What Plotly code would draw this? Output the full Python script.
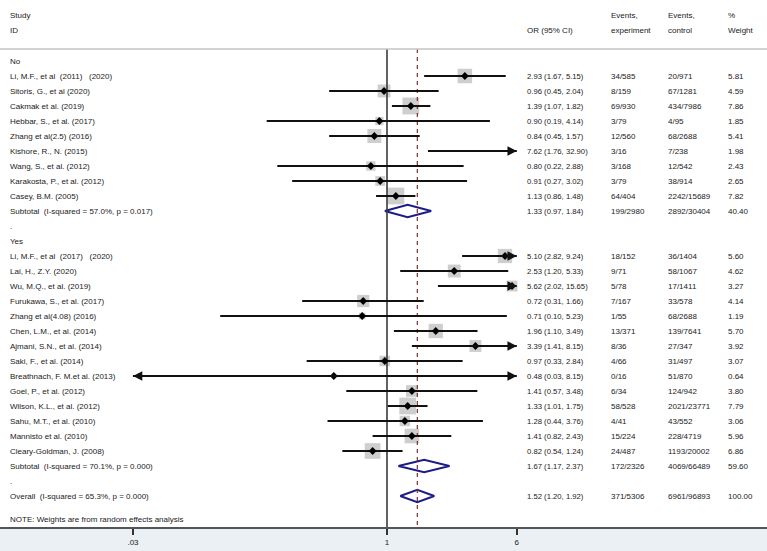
import math
import plotly.graph_objects as go

# ---------------- data ----------------
no_study = ["Li, M.F., et al\u00a0\u00a0(2011)\u00a0\u00a0\u00a0(2020)", "Sitoris, G., et al (2020)", "Cakmak et al. (2019)",
            "Hebbar, S., et al. (2017)", "Zhang et al(2.5) (2016)", "Kishore, R., N. (2015)",
            "Wang, S., et al. (2012)", "Karakosta, P., et al. (2012)", "Casey, B.M. (2005)"]
no_or = [2.93, 0.96, 1.39, 0.90, 0.84, 7.62, 0.80, 0.91, 1.13]
no_lo = [1.67, 0.45, 1.07, 0.19, 0.45, 1.76, 0.22, 0.27, 0.86]
no_hi = [5.15, 2.04, 1.82, 4.14, 1.57, 32.90, 2.88, 3.02, 1.48]
no_ev_exp = ["34/585", "8/159", "69/930", "3/79", "12/560", "3/16", "3/168", "3/79", "64/404"]
no_ev_ctl = ["20/971", "67/1281", "434/7986", "4/95", "68/2688", "7/238", "12/542", "38/914", "2242/15689"]
no_w = [5.81, 4.59, 7.86, 1.85, 5.41, 1.98, 2.43, 2.65, 7.82]

yes_study = ["Li, M.F., et al\u00a0\u00a0(2017)\u00a0\u00a0\u00a0(2020)", "Lai, H., Z.Y. (2020)", "Wu, M.Q., et al. (2019)",
             "Furukawa, S., et al. (2017)", "Zhang et al(4.08) (2016)", "Chen, L.M., et al. (2014)",
             "Ajmani, S.N., et al. (2014)", "Saki, F., et al. (2014)", "Breathnach, F. M.et al. (2013)",
             "Goel, P., et al. (2012)", "Wilson, K.L., et al. (2012)", "Sahu, M.T., et al. (2010)",
             "Mannisto et al. (2010)", "Cleary-Goldman, J. (2008)"]
yes_or = [5.10, 2.53, 5.62, 0.72, 0.71, 1.96, 3.39, 0.97, 0.48, 1.41, 1.33, 1.28, 1.41, 0.82]
yes_lo = [2.82, 1.20, 2.02, 0.31, 0.10, 1.10, 1.41, 0.33, 0.03, 0.57, 1.01, 0.44, 0.82, 0.54]
yes_hi = [9.24, 5.33, 15.65, 1.66, 5.23, 3.49, 8.15, 2.84, 8.15, 3.48, 1.75, 3.76, 2.43, 1.24]
yes_ev_exp = ["18/152", "9/71", "5/78", "7/167", "1/55", "13/371", "8/36", "4/66", "0/16", "6/34",
              "58/528", "4/41", "15/224", "24/487"]
yes_ev_ctl = ["36/1404", "58/1067", "17/1411", "33/578", "68/2688", "139/7641", "27/347", "31/497",
              "51/870", "124/942", "2021/23771", "43/552", "228/4719", "1193/20002"]
yes_w = [5.60, 4.62, 3.27, 4.14, 1.19, 5.70, 3.92, 3.07, 0.64, 3.80, 7.79, 3.06, 5.96, 6.86]

sub_label = ["Subtotal\u00a0\u00a0(I-squared = 57.0%, p = 0.017)", "Subtotal\u00a0\u00a0(I-squared = 70.1%, p = 0.000)"]
sub_or = [1.33, 1.67]
sub_lo = [0.97, 1.17]
sub_hi = [1.84, 2.37]
sub_ev_exp = ["199/2980", "172/2326"]
sub_ev_ctl = ["2892/30404", "4069/66489"]
sub_w = [40.40, 59.60]

overall_label = "Overall\u00a0\u00a0(I-squared = 65.3%, p = 0.000)"
overall_or, overall_lo, overall_hi = 1.52, 1.20, 1.92
overall_ev_exp, overall_ev_ctl, overall_w = "371/5306", "6961/96893", 100.00

group_names = ["No", "Yes"]
tick_vals = [0.03, 1, 6]
tick_text = [".03", "1", "6"]
note_text = "NOTE: Weights are from random effects analysis"

# ---------------- layout calibration ----------------
W, H = 767, 551
X1_PX = 387.0      # pixel of OR = 1
DEC_PX = 166.8     # pixels per decade
ROW0_PX = 61.0     # pixel of first row
ROW_PX = 15.0      # row spacing
CLIP_LO, CLIP_HI = tick_vals[0], tick_vals[-1]
FONT = "Liberation Sans, Arial, sans-serif"
TXT = "#1a1a1a"

x_range = [(0 - X1_PX) / DEC_PX, (W - X1_PX) / DEC_PX]
y_range = [(H - ROW0_PX) / ROW_PX, (0 - ROW0_PX) / ROW_PX]


def px_row(py):
    return (py - ROW0_PX) / ROW_PX


rows = []
r = 0
groups = [
    (no_study, no_or, no_lo, no_hi, no_ev_exp, no_ev_ctl, no_w),
    (yes_study, yes_or, yes_lo, yes_hi, yes_ev_exp, yes_ev_ctl, yes_w),
]
for gi, g in enumerate(groups):
    rows.append(dict(kind="head", label=group_names[gi], row=r)); r += 1
    for s, o, l, h, ee, ec, w in zip(*g):
        rows.append(dict(kind="study", label=s, est=o, lo=l, hi=h, ee=ee, ec=ec, w=w, row=r)); r += 1
    rows.append(dict(kind="sub", label=sub_label[gi], est=sub_or[gi], lo=sub_lo[gi], hi=sub_hi[gi],
                     ee=sub_ev_exp[gi], ec=sub_ev_ctl[gi], w=sub_w[gi], row=r)); r += 1
    rows.append(dict(kind="blank", label=".", row=r)); r += 1
rows.append(dict(kind="sub", label=overall_label, est=overall_or, lo=overall_lo, hi=overall_hi,
                 ee=overall_ev_exp, ec=overall_ev_ctl, w=overall_w, row=r))

fig = go.Figure()

# squares
sq_x, sq_y, sq_s = [], [], []
for d in rows:
    if d["kind"] == "study" and CLIP_LO <= d["est"] <= CLIP_HI:
        sq_x.append(d["est"]); sq_y.append(d["row"]); sq_s.append(6.0 * math.sqrt(d["w"]))
fig.add_trace(go.Scatter(x=sq_x, y=sq_y, mode="markers",
                         marker=dict(symbol="square", size=sq_s, color="#b9b9b9", line=dict(width=0)),
                         hoverinfo="skip", showlegend=False))

# diamonds
dh = 6.3 / ROW_PX
for d in rows:
    if d["kind"] == "sub":
        rr = d["row"]
        fig.add_trace(go.Scatter(x=[d["lo"], d["est"], d["hi"], d["est"], d["lo"]],
                                 y=[rr, rr - dh, rr, rr + dh, rr], mode="lines", fill="toself",
                                 fillcolor="white", line=dict(color="#1c1c85", width=2),
                                 hoverinfo="skip", showlegend=False))

top_row = px_row(49)
axis_row = px_row(528)
fig.add_trace(go.Scatter(x=[1, 1], y=[top_row, axis_row], mode="lines",
                         line=dict(color="#3a3a3a", width=1.6), hoverinfo="skip", showlegend=False))
fig.add_trace(go.Scatter(x=[overall_or, overall_or], y=[top_row, axis_row], mode="lines",
                         line=dict(color="#8b2a2a", width=1.2, dash="4px,4px"),
                         hoverinfo="skip", showlegend=False))

# CI lines
lx, ly = [], []
arrows = []
for d in rows:
    if d["kind"] == "study":
        lo = max(d["lo"], CLIP_LO)
        hi = min(d["hi"], CLIP_HI)
        lx += [lo, hi, None]; ly += [d["row"], d["row"], None]
        if d["hi"] > CLIP_HI:
            arrows.append((CLIP_HI, lo, d["row"]))
        if d["lo"] <= CLIP_LO:
            arrows.append((CLIP_LO, hi, d["row"]))
fig.add_trace(go.Scatter(x=lx, y=ly, mode="lines", line=dict(color="#111111", width=1.8),
                         hoverinfo="skip", showlegend=False))

# point estimates
px_, py_ = [], []
for d in rows:
    if d["kind"] == "study" and CLIP_LO <= d["est"] <= CLIP_HI:
        px_.append(d["est"]); py_.append(d["row"])
fig.add_trace(go.Scatter(x=px_, y=py_, mode="markers",
                         marker=dict(symbol="diamond", size=6, color="#000000"),
                         hoverinfo="skip", showlegend=False))

ann = []
for tip, tail, rr in arrows:
    ann.append(dict(x=math.log10(tip), y=rr, ax=math.log10(tail), ay=rr, xref="x", yref="y",
                    axref="x", ayref="y", text="", showarrow=True, arrowhead=2, arrowsize=1.1,
                    arrowwidth=1.7, arrowcolor="#111111", standoff=0, startstandoff=0))


def txt(x_px, row, s, size=8):
    ann.append(dict(x=(x_px - 2) / W, y=row, xref="paper", yref="y", text=s, showarrow=False,
                    xanchor="left", yanchor="middle", font=dict(family=FONT, size=size, color=TXT)))


h1, h2 = px_row(15), px_row(30)
txt(10, h1, "Study"); txt(10, h2, "ID")
txt(527, h2, "OR (95% CI)")
txt(611, h1, "Events,"); txt(611, h2, "experiment")
txt(668, h1, "Events,"); txt(668, h2, "control")
txt(728, h1, "%"); txt(728, h2, "Weight")

for d in rows:
    txt(10, d["row"], d["label"])
    if d["kind"] in ("study", "sub"):
        txt(527, d["row"], f"{d['est']:.2f} ({d['lo']:.2f}, {d['hi']:.2f})", size=7.7)
        txt(611, d["row"], d["ee"])
        txt(668, d["row"], d["ec"])
        txt(728, d["row"], f"{d['w']:.2f}")
txt(10, px_row(519), note_text)

axis_pos = 1 - 528 / H
shapes = [
    dict(type="rect", xref="paper", yref="paper", x0=0, x1=1, y0=0, y1=axis_pos,
         fillcolor="#eaf0f3", line=dict(width=0), layer="below"),
    dict(type="line", xref="paper", yref="paper", x0=0, x1=1, y0=1 - 49 / H, y1=1 - 49 / H,
         line=dict(color="#c4c4c4", width=1.5)),
]

fig.update_layout(
    width=W, height=H, margin=dict(l=0, r=0, t=0, b=0),
    paper_bgcolor="white", plot_bgcolor="white",
    annotations=ann, shapes=shapes,
    xaxis=dict(type="log", range=x_range, domain=[0, 1], showgrid=False, zeroline=False,
               tickvals=tick_vals, ticktext=tick_text, ticks="outside", ticklen=6, tickwidth=1.5,
               tickcolor="#333333", showline=True, linecolor="#555555", linewidth=2,
               anchor="free", position=axis_pos,
               tickfont=dict(family=FONT, size=8, color=TXT), fixedrange=True),
    yaxis=dict(range=y_range, domain=[0, 1], visible=False, fixedrange=True),
)

fig.write_html("out.html", config={"displayModeBar": False},
               post_script="document.body.style.margin='0';document.body.style.padding='0';"
                           "document.body.style.overflow='hidden';")
